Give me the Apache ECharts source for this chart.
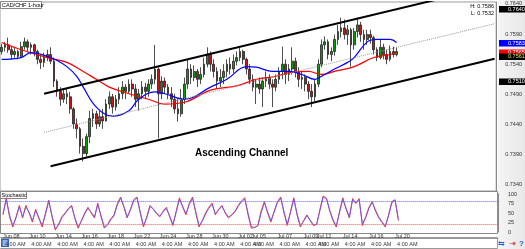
<!DOCTYPE html>
<html>
<head>
    <meta charset="utf-8">
    <title>CAD/CHF 1-hour</title>
    <script src="https://cdn.jsdelivr.net/npm/echarts@6.0.0/dist/echarts.min.js"></script>
    <style>
        body { margin: 0; background: #fff; }
        #chart { width: 525px; height: 249px; }
    </style>
</head>
<body>
<div id="chart"></div>
<script type="text/javascript">
    // trading days on the time scale, 4 bars (6 h) per day; the last days are the empty space on the right
    var tradingDays = ['Jun 08', 'Jun 09', 'Jun 10', 'Jun 11', 'Jun 14', 'Jun 15', 'Jun 16', 'Jun 17', 'Jun 18',
        'Jun 21', 'Jun 22', 'Jun 23', 'Jun 24', 'Jun 25', 'Jun 28', 'Jun 29', 'Jun 30', 'Jul 01', 'Jul 02',
        'Jul 05', 'Jul 06', 'Jul 07', 'Jul 08', 'Jul 09', 'Jul 12', 'Jul 13', 'Jul 14', 'Jul 15', 'Jul 16',
        'Jul 19', 'Jul 20', 'Jul 21', 'Jul 22', 'Jul 23', 'Jul 26', 'Jul 27', 'Jul 28', 'Jul 29'];
    var sessionHours = ['00:00', '06:00', '12:00', '18:00'];
    var dateTicks = ['Jun 08', 'Jun 10', 'Jun 14', 'Jun 16', 'Jun 18', 'Jun 22', 'Jun 24', 'Jun 28', 'Jun 30',
        'Jul 02', 'Jul 05', 'Jul 07', 'Jul 09', 'Jul 12', 'Jul 14', 'Jul 16', 'Jul 20'];

    var opens = [.7561, .7568, .7572, .7564, .7556, .7561, .7553, .7569, .7577, .7568,
        .7572, .7561, .7548, .7543, .7551, .7556, .7545, .7512, .7495, .7482,
        .7491, .7486, .7466, .7441, .7433, .7404, .7392, .7420, .7450, .7458,
        .7441, .7453, .7446, .7474, .7486, .7469, .7482, .7491, .7502, .7495,
        .7507, .7499, .7482, .7491, .7502, .7495, .7507, .7515, .7532, .7491,
        .7512, .7502, .7491, .7482, .7466, .7458, .7482, .7507, .7532, .7518,
        .7528, .7515, .7523, .7540, .7556, .7540, .7528, .7512, .7518, .7528,
        .7540, .7532, .7545, .7551, .7561, .7548, .7532, .7515, .7502, .7507,
        .7499, .7512, .7518, .7507, .7502, .7515, .7528, .7540, .7523, .7532,
        .7545, .7528, .7515, .7518, .7507, .7495, .7486, .7507, .7540, .7572,
        .7577, .7556, .7561, .7581, .7594, .7600, .7589, .7597, .7572, .7594,
        .7605, .7589, .7581, .7589, .7584, .7564, .7551, .7568, .7556, .7548,
        .7561, .7556];
    var closes = [.7568, .7572, .7564, .7556, .7561, .7553, .7569, .7577, .7568, .7572,
        .7561, .7548, .7543, .7551, .7556, .7545, .7512, .7495, .7482, .7491,
        .7486, .7466, .7441, .7433, .7404, .7392, .7420, .7450, .7458, .7441,
        .7453, .7446, .7474, .7486, .7469, .7482, .7491, .7502, .7495, .7507,
        .7499, .7482, .7491, .7502, .7495, .7507, .7515, .7532, .7491, .7512,
        .7502, .7491, .7482, .7466, .7458, .7482, .7507, .7532, .7518, .7528,
        .7515, .7523, .7540, .7556, .7540, .7528, .7512, .7518, .7528, .7540,
        .7532, .7545, .7551, .7561, .7548, .7532, .7515, .7502, .7507, .7499,
        .7512, .7518, .7507, .7502, .7515, .7528, .7540, .7523, .7532, .7545,
        .7528, .7515, .7518, .7507, .7495, .7486, .7507, .7540, .7572, .7577,
        .7556, .7561, .7581, .7594, .7600, .7589, .7597, .7572, .7594, .7605,
        .7589, .7581, .7589, .7584, .7564, .7551, .7568, .7556, .7548, .7561,
        .7556, .7561];
    var lows = [.7556, .7561, .7559, .7548, .7551, .7548, .7551, .7564, .7561, .7556,
        .7553, .7540, .7532, .7535, .7545, .7540, .7502, .7486, .7471, .7476,
        .7474, .7458, .7433, .7417, .7392, .7379, .7387, .7409, .7436, .7433,
        .7436, .7433, .7445, .7466, .7458, .7463, .7474, .7482, .7482, .7491,
        .7486, .7469, .7463, .7482, .7482, .7486, .7499, .7507, .7417, .7482,
        .7491, .7482, .7469, .7458, .7445, .7453, .7474, .7499, .7507, .7512,
        .7502, .7507, .7518, .7535, .7528, .7518, .7499, .7502, .7507, .7518,
        .7523, .7525, .7538, .7545, .7540, .7523, .7507, .7495, .7474, .7491,
        .7469, .7502, .7499, .7469, .7495, .7507, .7515, .7507, .7512, .7523,
        .7518, .7502, .7499, .7495, .7482, .7469, .7479, .7502, .7535, .7564,
        .7548, .7545, .7554, .7572, .7584, .7581, .7572, .7536, .7564, .7584,
        .7577, .7564, .7572, .7574, .7556, .7545, .7548, .7548, .7540, .7545,
        .7551, .7553];
    var highs = [.7574, .7577, .7584, .7569, .7568, .7564, .7577, .7584, .7581, .7576,
        .7574, .7564, .7556, .7559, .7564, .7568, .7551, .7515, .7502, .7499,
        .7499, .7494, .7469, .7450, .7436, .7417, .7425, .7463, .7466, .7463,
        .7463, .7466, .7482, .7495, .7491, .7489, .7502, .7512, .7507, .7515,
        .7515, .7507, .7499, .7512, .7509, .7515, .7523, .7572, .7535, .7520,
        .7518, .7507, .7502, .7491, .7482, .7499, .7518, .7548, .7540, .7538,
        .7532, .7535, .7551, .7568, .7561, .7548, .7535, .7532, .7540, .7548,
        .7551, .7556, .7561, .7569, .7564, .7551, .7540, .7523, .7515, .7518,
        .7518, .7528, .7523, .7515, .7523, .7535, .7569, .7548, .7540, .7568,
        .7551, .7535, .7528, .7523, .7512, .7507, .7515, .7548, .7581, .7586,
        .7581, .7568, .7589, .7605, .7617, .7614, .7605, .7600, .7600, .7617,
        .7610, .7597, .7597, .7597, .7587, .7568, .7581, .7574, .7564, .7571,
        .7569, .7568];

    // moving averages, read at a few bar positions: [bar index, price]
    var maRed = [[0, .7576], [6, .7564], [14, .7551], [20, .7543], [25, .7528], [29, .7515], [33, .7502],
        [39, .7491], [45, .7482], [50, .7474], [56, .7477], [64, .7497], [72, .7504], [78, .7515],
        [84, .7520], [89, .7527], [94, .7528], [98, .7523], [102, .7528], [108, .7536], [114, .7551],
        [119, .7556], [121, .7559]];
    var maBlue = [[0, .7548], [6, .7551], [9, .7559], [14, .7553], [17, .7546], [20, .7536], [23, .7520],
        [25, .7502], [29, .7469], [34, .7454], [39, .7463], [42, .7482], [47, .7494], [50, .7491],
        [56, .7482], [64, .7502], [69, .7515], [75, .7536], [78, .7535], [83, .7528], [88, .7528],
        [92, .7523], [96, .7515], [98, .7520], [102, .7532], [106, .7543], [108, .7551], [112, .7577],
        [115, .7581], [119, .7581], [121, .7576]];

    // channel lines: [bar index, price] at both ends
    var channelTop = [[13, .7491], [151, .7670]];
    var channelMid = [[13, .7427], [151, .7607]];
    var channelBottom = [[15, .7371], [151, .7549]];

    var stochMain = [45, 90, 40, 13, 40, 70, 37, 70, 50, 26, 60, 35, 13, 50, 84, 40, 5, 20, 40, 50,
        62, 70, 35, 10, 30, 50, 65, 50, 37, 76, 40, 10, 20, 35, 45, 75, 92, 65, 37, 60,
        85, 92, 50, 13, 40, 70, 60, 48, 40, 55, 65, 40, 17, 55, 90, 65, 45, 75, 92, 50,
        13, 30, 50, 65, 76, 45, 60, 70, 50, 37, 45, 55, 70, 82, 90, 45, 10, 12, 17, 55,
        80, 50, 26, 55, 80, 92, 50, 17, 55, 90, 45, 13, 30, 45, 30, 17, 20, 60, 95, 88,
        55, 30, 13, 55, 90, 60, 37, 88, 75, 88, 17, 40, 65, 80, 55, 37, 25, 13, 45, 80,
        85, 30];
    var stochSignal = [48, 85, 45, 17, 37, 66, 40, 66, 52, 30, 56, 38, 17, 46, 80, 44, 9, 18, 37, 48,
        60, 68, 38, 14, 28, 47, 62, 52, 40, 72, 44, 14, 18, 32, 43, 71, 89, 68, 40, 57,
        82, 90, 54, 17, 37, 67, 61, 50, 42, 53, 62, 43, 20, 51, 86, 68, 48, 72, 89, 54,
        17, 28, 47, 62, 73, 48, 58, 68, 52, 40, 44, 53, 67, 80, 87, 50, 14, 12, 16, 50,
        77, 53, 30, 52, 77, 89, 54, 21, 51, 86, 49, 17, 28, 43, 32, 19, 20, 56, 91, 89,
        58, 33, 16, 51, 86, 63, 40, 84, 77, 85, 22, 37, 62, 78, 58, 40, 27, 16, 42, 76,
        84, 35];
    var stochLevels = [80, 20];

    var categories = [];
    tradingDays.forEach(function (d) {
        sessionHours.forEach(function (h) {
            categories.push(d + ' ' + h);
        });
    });
    var candles = opens.map(function (o, i) {
        return [o, closes[i], lows[i], highs[i]];
    });

    function isTickDay(index, value) {
        return value.slice(7) === '00:00' && dateTicks.indexOf(value.slice(0, 6)) >= 0;
    }

    var small = {fontSize: 5.5, color: '#333', fontFamily: 'Liberation Sans'};

    function tag(y, h, bg, fg, text) {
        return {
            type: 'group', children: [
                {type: 'rect', shape: {x: 499, y: y, width: 26, height: h}, style: {fill: bg}},
                {type: 'text', x: 508, y: y + h / 2, style: {text: text, fill: fg, fontSize: 5.5, fontFamily: 'Liberation Sans', verticalAlign: 'middle'}}
            ]
        };
    }

    var myChart = echarts.init(document.getElementById('chart'));
    var option = {
        animation: false,
        backgroundColor: new echarts.graphic.LinearGradient(0, 0, 1, 0, [
            {offset: 0, color: '#ffffff'}, {offset: 0.948, color: '#ffffff'},
            {offset: 0.949, color: '#f4f4f4'}, {offset: 1, color: '#e8e8e8'}
        ]),
        textStyle: {fontFamily: 'Liberation Sans'},
        grid: [
            {left: 0, top: 2, width: 498, height: 189, show: true, backgroundColor: '#fff', borderColor: '#999'},
            {left: 0, top: 194, width: 498, height: 38}
        ],
        xAxis: [
            {type: 'category', gridIndex: 0, data: categories, axisLine: {show: false}, axisTick: {show: false}, axisLabel: {show: false}},
            {
                type: 'category', gridIndex: 1, data: categories, position: 'bottom',
                axisLine: {show: false},
                axisTick: {interval: isTickDay, length: 2, lineStyle: {color: '#666'}},
                axisLabel: Object.assign({interval: isTickDay, align: 'left', margin: 1, formatter: function (v) { return v.slice(0, 6); }}, small)
            },
            {
                type: 'category', gridIndex: 1, data: categories, position: 'bottom', offset: 6,
                axisLine: {show: true, lineStyle: {color: '#999'}},
                axisTick: {interval: isTickDay, length: 10, lineStyle: {color: '#999'}},
                axisLabel: Object.assign({interval: isTickDay, align: 'left', margin: 3, padding: [0, 0, 0, 2], formatter: '4:00 AM'}, small)
            }
        ],
        yAxis: [
            {
                type: 'value', gridIndex: 0, position: 'right', min: 0.7330, max: 0.7643, interval: 0.001,
                splitLine: {show: false},
                axisLine: {show: true, lineStyle: {color: '#888'}},
                axisTick: {inside: true, length: 2, lineStyle: {color: '#777'}},
                axisLabel: Object.assign({
                    margin: 9, showMaxLabel: false, showMinLabel: false,
                    formatter: function (v) {
                        var p = Math.round(v * 10000);
                        return p % 50 === 40 ? (p / 10000).toFixed(4) : '';
                    }
                }, small)
            },
            {
                type: 'value', gridIndex: 1, position: 'right', min: 0, max: 100, interval: 25,
                splitLine: {show: false},
                axisLine: {show: true, lineStyle: {color: '#888'}},
                axisTick: {inside: true, length: 2, lineStyle: {color: '#777'}},
                minorTick: {show: true, splitNumber: 5, length: 1, lineStyle: {color: '#999'}},
                axisLabel: Object.assign({margin: 10}, small)
            }
        ],
        series: [
            {
                type: 'candlestick', xAxisIndex: 0, yAxisIndex: 0, data: candles, barWidth: 2.2,
                itemStyle: {color: '#0c9a0c', color0: '#c81414', borderColor: '#222', borderColor0: '#222', borderWidth: 0.8}
            },
            {type: 'line', xAxisIndex: 0, yAxisIndex: 0, data: maRed, smooth: 0.4, symbol: 'none', lineStyle: {color: '#ff0000', width: 1.2}},
            {type: 'line', xAxisIndex: 0, yAxisIndex: 0, data: maBlue, smooth: 0.4, symbol: 'none', lineStyle: {color: '#0000ff', width: 1.2}},
            {type: 'line', xAxisIndex: 0, yAxisIndex: 0, data: channelMid, symbol: 'none', lineStyle: {color: '#999', width: 1, type: 'dotted'}},
            {type: 'line', xAxisIndex: 0, yAxisIndex: 0, data: channelTop, symbol: 'none', lineStyle: {color: '#000', width: 2}},
            {type: 'line', xAxisIndex: 0, yAxisIndex: 0, data: channelBottom, symbol: 'none', lineStyle: {color: '#000', width: 2}},
            {
                type: 'line', xAxisIndex: 1, yAxisIndex: 1, data: stochMain, symbol: 'none', lineStyle: {color: '#ff3030', width: 1},
                markLine: {
                    silent: true, symbol: 'none', label: {show: false},
                    data: [
                        {yAxis: stochLevels[0], lineStyle: {color: '#6060ff', type: 'dotted', width: 1}},
                        {yAxis: stochLevels[1], lineStyle: {color: '#ff5050', type: 'dotted', width: 1}}
                    ]
                }
            },
            {type: 'line', xAxisIndex: 1, yAxisIndex: 1, data: stochSignal, symbol: 'none', lineStyle: {color: '#5a5aff', width: 1, opacity: 0.85}}
        ],
        graphic: [
            // stochastic panel frame and time strip
            {type: 'rect', shape: {x: 0.5, y: 191.5, width: 497, height: 42}, style: {fill: 'none', stroke: '#888'}},
            {type: 'rect', shape: {x: 0.5, y: 237.5, width: 497, height: 11}, style: {fill: 'none', stroke: '#999'}},
            {type: 'rect', shape: {x: 0, y: 238, width: 14, height: 10}, style: {fill: '#fff'}},
            {type: 'rect', shape: {x: 1, y: 239, width: 8, height: 8}, style: {fill: '#2f62c8'}},
            {type: 'rect', shape: {x: 2.5, y: 240.5, width: 5, height: 1}, style: {fill: '#fff'}},
            {type: 'rect', shape: {x: 2.5, y: 242.5, width: 5, height: 1}, style: {fill: '#fff'}},
            {type: 'rect', shape: {x: 2.5, y: 244.5, width: 5, height: 1}, style: {fill: '#fff'}},
            // panel captions
            {type: 'rect', shape: {x: 0.5, y: 1.5, width: 41, height: 7}, style: {fill: '#fff', stroke: '#888'}},
            {type: 'text', x: 2, y: 5, style: Object.assign({text: 'CAD/CHF 1-hour', verticalAlign: 'middle'}, small)},
            {type: 'rect', shape: {x: 0.5, y: 191.5, width: 26, height: 7}, style: {fill: '#fff', stroke: '#888'}},
            {type: 'text', x: 1.5, y: 195, style: Object.assign({text: 'Stochastic', verticalAlign: 'middle'}, small)},
            {type: 'text', x: 494, y: 6, style: Object.assign({text: 'H: 0.7586', align: 'right', verticalAlign: 'middle'}, small)},
            {type: 'text', x: 494, y: 13.5, style: Object.assign({text: 'L: 0.7532', align: 'right', verticalAlign: 'middle'}, small)},
            {
                type: 'text', x: 195, y: 153,
                style: {text: 'Ascending Channel', fill: '#000', font: 'bold 10px "Liberation Sans"', verticalAlign: 'middle'}
            },
            // price tags on the right scale
            tag(6, 6.5, '#000', '#fff', '0.7640'),
            tag(40, 6.5, '#0000ff', '#fff', '0.7583'),
            tag(49.5, 5, '#ff0000', '#fff', '0.7565'),
            tag(53.5, 6.5, '#000', '#e0e040', '0.7561'),
            tag(78.5, 6.5, '#000', '#fff', '0.7510'),
            // bottom-right icons
            {type: 'text', x: 498, y: 244, style: {text: '⇆', fill: '#2a5fd0', fontSize: 8, verticalAlign: 'middle'}},
            {type: 'text', x: 509, y: 244, style: {text: '⇥', fill: '#e02020', fontSize: 8, verticalAlign: 'middle'}},
            {type: 'text', x: 519, y: 244, style: {text: '?', fill: '#2a5fd0', font: 'bold 8px "Liberation Sans"', verticalAlign: 'middle'}}
        ]
    };
    myChart.setOption(option);
</script>
</body>
</html>
